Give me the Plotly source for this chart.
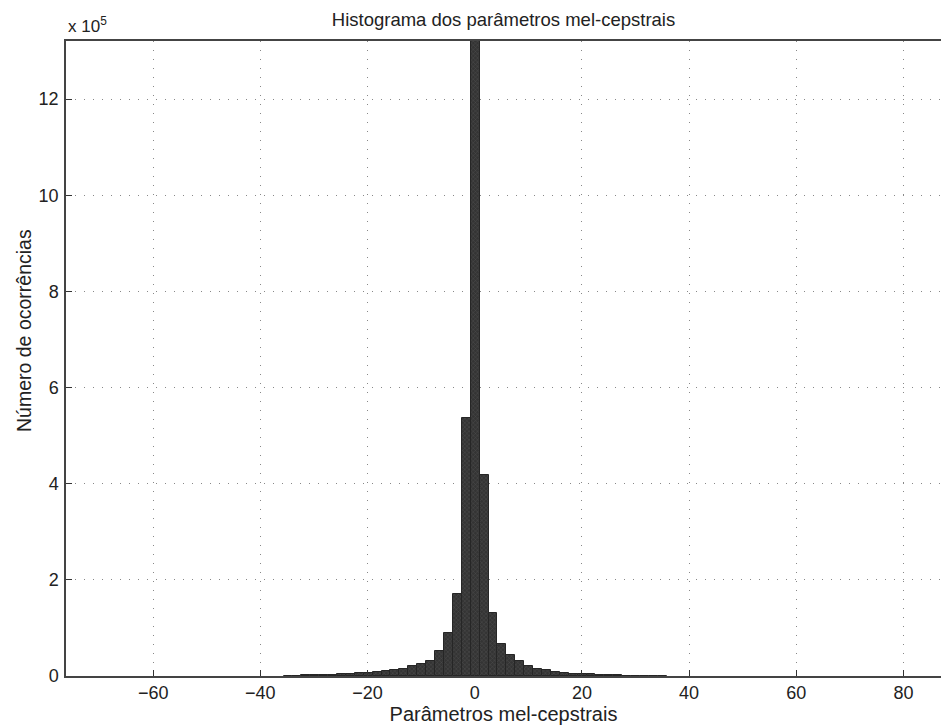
import plotly.graph_objects as go

# Histogram bin centres (mel-cepstral parameter value) and counts
bin_width = 1.663
bin_index = list(range(-21, 22))
bin_centers = [round(0.08 + k * bin_width, 3) for k in bin_index]
counts = [
    800, 1000, 1200, 1800, 2000, 3000, 3500, 5000, 5500, 7000, 8000,
    10000, 12500, 15000, 20500, 24500, 32000, 53000, 89000, 170000, 537000,
    1320000,
    419000, 132000, 67500, 44500, 30500, 21000, 15500, 11500, 8500, 6500,
    5000, 4000, 3500, 3000, 2000, 1800, 1000, 1000, 900, 800, 700,
]

x_ticks = [-60, -40, -20, 0, 20, 40, 60, 80]
y_ticks = [0, 200000, 400000, 600000, 800000, 1000000, 1200000]
y_tick_labels = ["0", "2", "4", "6", "8", "10", "12"]

font = "Liberation Sans, Arial, Helvetica, sans-serif"

fig = go.Figure(
    go.Bar(
        x=bin_centers,
        y=counts,
        width=bin_width,
        marker=dict(
            color="#3a3a3a",
            line=dict(color="#262626", width=1),
            pattern=dict(shape="x", fgcolor="#6e6e6e", bgcolor="#343434", size=3, solidity=0.25),
        ),
        hoverinfo="x+y",
    )
)

fig.update_layout(
    width=941,
    height=727,
    margin=dict(l=66, r=0, t=41, b=51),
    paper_bgcolor="white",
    plot_bgcolor="white",
    showlegend=False,
    bargap=0,
    font=dict(family=font, size=18, color="#222"),
    title=dict(
        text="Histograma dos parâmetros mel-cepstrais",
        x=0.5, xref="paper", xanchor="center",
        y=1 - 20 / 727, yanchor="middle",
        font=dict(size=18.5, color="#222"),
    ),
    xaxis=dict(
        range=[-76.26, 87.0],
        tickvals=x_ticks,
        ticks="inside",
        ticklen=6,
        tickcolor="#333",
        showline=True,
        linecolor="#444",
        linewidth=1.5,
        mirror=True,
        showgrid=True,
        gridcolor="#888",
        griddash="1px,8px",
        zeroline=False,
        tickfont=dict(size=18),
        title=dict(text="Parâmetros mel-cepstrais", font=dict(size=20), standoff=2),
    ),
    yaxis=dict(
        range=[0, 1321000],
        tickvals=y_ticks,
        ticktext=y_tick_labels,
        ticks="inside",
        ticklen=6,
        tickcolor="#333",
        showline=True,
        linecolor="#444",
        linewidth=1.5,
        mirror=False,
        showgrid=True,
        gridcolor="#888",
        griddash="1px,8px",
        zeroline=False,
        tickfont=dict(size=18),
        ticklabelstandoff=2,
    ),
    annotations=[
        dict(
            text="x 10<sup>5</sup>",
            xref="paper", yref="paper",
            x=0, y=1, xanchor="left", yanchor="bottom", yshift=3,
            showarrow=False,
            font=dict(size=17, color="#222"),
        ),
        dict(
            text="Número de ocorrências",
            xref="paper", yref="paper",
            x=-66 / 875, y=(676 - 331) / 635,
            xanchor="center", yanchor="middle", xshift=24,
            textangle=-90,
            showarrow=False,
            font=dict(size=19.5, color="#222"),
        ),
    ],
)

fig.write_html("out.html")
